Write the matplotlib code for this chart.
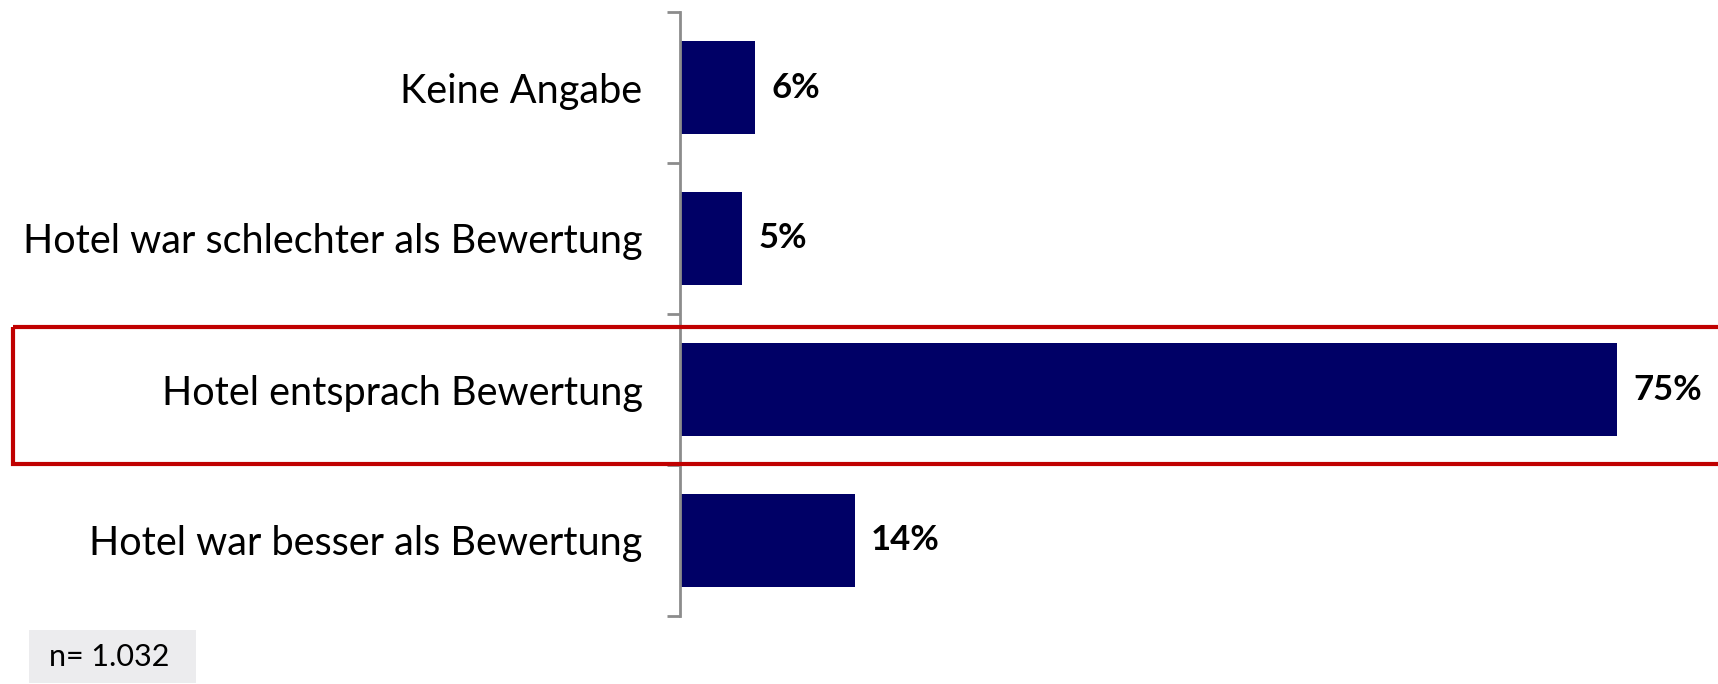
import matplotlib
matplotlib.use("Agg")
import matplotlib.pyplot as plt
import matplotlib.transforms as mtransforms
from matplotlib.patches import Rectangle

categories = ["Keine Angabe", "Hotel war schlechter als Bewertung",
              "Hotel entsprach Bewertung", "Hotel war besser als Bewertung"]
values = [6, 5, 75, 14]
value_labels = ["6%", "5%", "75%", "14%"]
highlight_index = 2
n_label = "n= 1.032"

W, H = 1718, 684
fig = plt.figure(figsize=(W / 100, H / 100), dpi=100)
ax = fig.add_axes([680 / W, 68 / H, 1038 / W, 604 / H])

ypos = list(range(len(categories)))
ax.barh(ypos, values, height=0.62, color="#000066")
ax.set_ylim(3.5, -0.5)
ax.set_xlim(0, 83.1)

for y, v, lab in zip(ypos, values, value_labels):
    ax.text(v + 1.3, y, lab, va="center", ha="left", fontsize=25,
            fontweight="bold", family="Lato", color="black")

for s in ["top", "right", "bottom"]:
    ax.spines[s].set_visible(False)
ax.spines["left"].set_color("#8c8c8c")
ax.spines["left"].set_linewidth(2)
ax.set_xticks([])
ax.set_yticks(ypos)
ax.set_yticklabels(categories, family="Lato", fontsize=28.5)
ax.tick_params(axis="y", which="major", length=0, pad=27)
ax.set_yticks([y - 0.5 for y in ypos] + [len(ypos) - 0.5], minor=True)
ax.tick_params(axis="y", which="minor", length=9.5, width=2, color="#8c8c8c")

# highlight box (open on the right, running past the figure edge)
trans = mtransforms.blended_transform_factory(fig.transFigure, ax.transData)
rect = Rectangle((13 / W, highlight_index - 0.414), (1740 - 13) / W, 0.907,
                 transform=trans, fill=False, edgecolor="#c00000",
                 linewidth=3, clip_on=False)
fig.add_artist(rect)

# n box
fig.add_artist(Rectangle((29 / W, 1 / H), 167 / W, 53 / H, transform=fig.transFigure,
                         facecolor="#ececee", edgecolor="none"))
fig.text(49 / W, 27.5 / H, n_label, family="Lato", fontsize=22, va="center", ha="left")

fig.savefig("out.png", dpi=100)
